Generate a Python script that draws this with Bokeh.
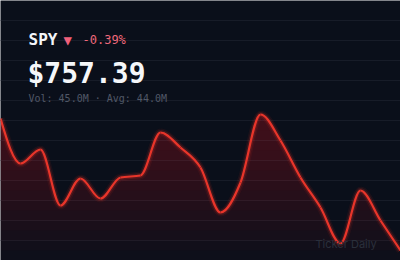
import numpy as np
from bokeh.plotting import figure
from bokeh.models import Range1d, Label, Grid, FixedTicker, ColumnDataSource
from bokeh.embed import file_html
from bokeh.resources import INLINE

# ---- data ----
days = list(range(21))
prices = [763.99, 761.74, 762.44, 759.64, 760.99, 759.99, 761.04, 761.14,
          763.29, 762.54, 761.54, 759.29, 760.79, 764.19, 762.89, 761.04,
          759.54, 757.74, 760.39, 758.89, 757.39]
symbol = "SPY"
last_price = "$757.39"
change_text = "-0.39%"
volume_text = "Vol: 45.0M \u00b7 Avg: 44.0M"
watermark = "Ticker Daily"

# ---- style ----
BG = "#0a0f1a"
GRID = "#171c28"
RED = "#e8352a"
MONO = "DejaVu Sans Mono"

W, H = 400, 260
y_lo, y_hi = 756.89, 769.89

p = figure(width=W, height=H, output_backend="svg", toolbar_location=None,
           x_axis_type=None, y_axis_type=None,
           x_range=Range1d(0, 20), y_range=Range1d(y_lo, y_hi),
           min_border=0, background_fill_color=BG, border_fill_color=BG,
           outline_line_color=None)

grid_ticks = [y_hi - k for k in range(14)]
p.add_layout(Grid(dimension=1, ticker=FixedTicker(ticks=grid_ticks),
                  grid_line_color=GRID, grid_line_width=1))


# monotone-X cubic (as d3.curveMonotoneX) rendering of the price series
def tangents(x, y):
    n = len(x)
    t = [0.0] * n
    for i in range(1, n - 1):
        h0 = x[i] - x[i - 1]
        h1 = x[i + 1] - x[i]
        s0 = (y[i] - y[i - 1]) / h0
        s1 = (y[i + 1] - y[i]) / h1
        pp = (s0 * h1 + s1 * h0) / (h0 + h1)
        t[i] = (np.sign(s0) + np.sign(s1)) * min(abs(s0), abs(s1), 0.5 * abs(pp))
    t[0] = (3 * (y[1] - y[0]) / (x[1] - x[0]) - t[1]) / 2
    t[-1] = (3 * (y[-1] - y[-2]) / (x[-1] - x[-2]) - t[-2]) / 2
    return t


tg = tangents(days, prices)
seg = dict(x0=[], y0=[], x1=[], y1=[], cx0=[], cy0=[], cx1=[], cy1=[])
for i in range(len(days) - 1):
    h = days[i + 1] - days[i]
    seg["x0"].append(days[i]); seg["y0"].append(prices[i])
    seg["x1"].append(days[i + 1]); seg["y1"].append(prices[i + 1])
    seg["cx0"].append(days[i] + h / 3); seg["cy0"].append(prices[i] + h / 3 * tg[i])
    seg["cx1"].append(days[i + 1] - h / 3); seg["cy1"].append(prices[i + 1] - h / 3 * tg[i + 1])
seg_src = ColumnDataSource(seg)

# sampled path of the same curve for the area fill
fx, fy = [], []
u = np.linspace(0, 1, 16)
for i in range(len(days) - 1):
    P0 = np.array([seg["x0"][i], seg["y0"][i]])
    P1 = np.array([seg["cx0"][i], seg["cy0"][i]])
    P2 = np.array([seg["cx1"][i], seg["cy1"][i]])
    P3 = np.array([seg["x1"][i], seg["y1"][i]])
    for uu in (u if i == 0 else u[1:]):
        pt = ((1 - uu) ** 3) * P0 + 3 * ((1 - uu) ** 2) * uu * P1 + 3 * (1 - uu) * uu ** 2 * P2 + uu ** 3 * P3
        fx.append(pt[0]); fy.append(pt[1])
fx = np.array(fx); fy = np.array(fy)

# vertical gradient approximation: stacked translucent bands
levels = np.linspace(y_lo, 764.4, 16)
for L in levels:
    p.varea(x=fx, y1=np.full_like(fy, L), y2=np.maximum(fy, L),
            fill_color=RED, fill_alpha=0.019)

# glow + line
for lw, la in ((8, 0.08), (5, 0.18), (2.2, 1.0)):
    p.bezier(x0="x0", y0="y0", x1="x1", y1="y1", cx0="cx0", cy0="cy0", cx1="cx1", cy1="cy1",
             source=seg_src, line_color=RED, line_width=lw, line_alpha=la)

# ---- texts ----
def lab(x, y, text, size, color, bold=False, font=MONO, alpha=1.0):
    p.add_layout(Label(x=x, y=y, x_units="screen", y_units="screen", text=text,
                       text_font=font, text_font_size=size, text_color=color,
                       text_alpha=alpha, text_baseline="alphabetic",
                       text_font_style="bold" if bold else "normal"))

lab(28, 221.5, symbol, "16px", "#f3f5f9", bold=True)
lab(63, 220.5, "\u25bc", "14px", "#f0607a")
lab(82, 220.5, change_text, "12px", "#f0697b")
lab(27, 187.5, last_price, "28px", "#f5f7fa", bold=True)
lab(28, 162, volume_text, "10px", "#515867")
lab(315, 16.5, watermark, "11px", "#2b303c", font="Inter")

open("out.html", "w").write(file_html(p, INLINE))
